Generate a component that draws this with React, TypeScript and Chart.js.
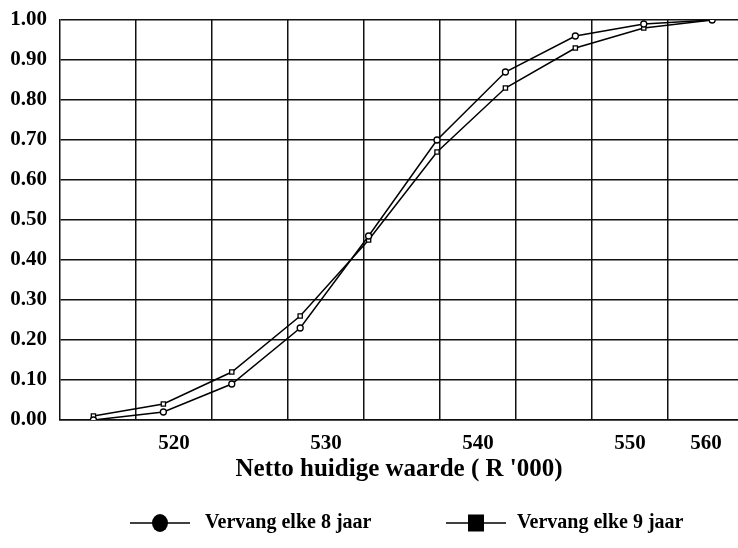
import React, { useEffect, useRef } from "react";
import { Chart, registerables } from "chart.js";

Chart.register(...registerables);

const xValues = [514.7, 519.3, 523.8, 528.3, 532.8, 537.3, 541.8, 546.4, 550.9, 555.4];
const series8 = [0.0, 0.02, 0.09, 0.23, 0.46, 0.7, 0.87, 0.96, 0.99, 1.0];
const series9 = [0.01, 0.04, 0.12, 0.26, 0.45, 0.67, 0.83, 0.93, 0.98, 1.0];
const xGridValues = [517.5, 522.5, 527.5, 532.5, 537.5, 542.5, 547.5, 552.5];
const xTickValues = [520, 530, 540, 550, 555];
const xTickLabels = ["520", "530", "540", "550", "560"];
const seriesNames = ["Vervang elke 8 jaar", "Vervang elke 9 jaar"];
const xTitle = "Netto huidige waarde ( R '000)";

const FONT = "'Liberation Serif', 'Times New Roman', serif";

const legendPlugin = {
  id: "customLegend",
  afterDraw(chart: any) {
    const ctx = chart.ctx;
    ctx.save();
    const y = 523;
    ctx.strokeStyle = "#000";
    ctx.fillStyle = "#000";
    ctx.lineWidth = 1.5;
    ctx.font = `bold 20px ${FONT}`;
    ctx.textBaseline = "middle";
    ctx.textAlign = "left";
    const c1 = 160;
    ctx.beginPath();
    ctx.moveTo(c1 - 30, y);
    ctx.lineTo(c1 + 30, y);
    ctx.stroke();
    ctx.beginPath();
    ctx.ellipse(c1, y, 8, 9, 0, 0, Math.PI * 2);
    ctx.fill();
    ctx.fillText(seriesNames[0], 205, y);
    const c2 = 476;
    ctx.beginPath();
    ctx.moveTo(c2 - 30, y);
    ctx.lineTo(c2 + 30, y);
    ctx.stroke();
    ctx.fillRect(c2 - 8, y - 8.5, 16, 17);
    ctx.fillText(seriesNames[1], 517, y);
    ctx.restore();
  },
};

export default function App() {
  const canvasRef = useRef<HTMLCanvasElement | null>(null);

  useEffect(() => {
    document.body.style.margin = "0";
    const canvas = canvasRef.current;
    if (!canvas) return;
    const chart = new Chart(canvas, {
      type: "line",
      data: {
        datasets: [
          {
            label: seriesNames[0],
            data: xValues.map((x, i) => ({ x, y: series8[i] })),
            borderColor: "#000",
            borderWidth: 1.5,
            pointStyle: "circle",
            pointRadius: 3,
            pointBackgroundColor: "#fff",
            pointBorderColor: "#000",
            pointBorderWidth: 1.3,
            tension: 0,
          },
          {
            label: seriesNames[1],
            data: xValues.map((x, i) => ({ x, y: series9[i] })),
            borderColor: "#000",
            borderWidth: 1.5,
            pointStyle: "rect",
            pointRadius: 3,
            pointBackgroundColor: "#fff",
            pointBorderColor: "#000",
            pointBorderWidth: 1.3,
            tension: 0,
          },
        ],
      },
      options: {
        responsive: false,
        animation: false,
        layout: { autoPadding: false, padding: { left: 0, right: 0, top: 20, bottom: 60 } },
        plugins: {
          legend: { display: false },
          tooltip: { enabled: false },
        },
        scales: {
          x: {
            type: "linear",
            min: 512.5,
            max: 557.1,
            afterBuildTicks: (scale: any) => {
              const vals = [...xGridValues, ...xTickValues].sort((a, b) => a - b);
              scale.ticks = vals.map((v) => ({ value: v }));
            },
            afterFit: (scale: any) => {
              scale.height = 68;
              scale.paddingLeft = 0;
              scale.paddingRight = 0;
            },
            grid: {
              drawTicks: false,
              lineWidth: 1.5,
              color: (ctx: any) =>
                ctx.tick && xGridValues.includes(ctx.tick.value) ? "#111" : "rgba(0,0,0,0)",
            },
            border: { display: true, color: "#111", width: 1.5 },
            ticks: {
              autoSkip: false,
              maxRotation: 0,
              padding: 11,
              color: "#000",
              font: { family: FONT, size: 21, weight: "bold" },
              callback: (value: any) => {
                const idx = xTickValues.indexOf(Number(value));
                return idx >= 0 ? xTickLabels[idx] : "";
              },
            },
            title: {
              display: true,
              text: xTitle,
              color: "#000",
              font: { family: FONT, size: 25, weight: "bold" },
              padding: { top: 0, bottom: 3 },
            },
          },
          y: {
            min: 0,
            max: 1,
            afterFit: (scale: any) => {
              scale.width = 60;
              scale.paddingTop = 0;
              scale.paddingBottom = 0;
            },
            grid: { drawTicks: false, lineWidth: 1.5, color: "#111" },
            border: { display: true, color: "#111", width: 1.5 },
            ticks: {
              stepSize: 0.1,
              padding: 13,
              color: "#000",
              font: { family: FONT, size: 21, weight: "bold" },
              callback: (value: any) => Number(value).toFixed(2),
            },
          },
        },
      },
      plugins: [legendPlugin],
    });
    return () => chart.destroy();
  }, []);

  return (
    <div style={{ width: 738, height: 548, background: "#fff" }}>
      <canvas ref={canvasRef} width={738} height={548} />
    </div>
  );
}
